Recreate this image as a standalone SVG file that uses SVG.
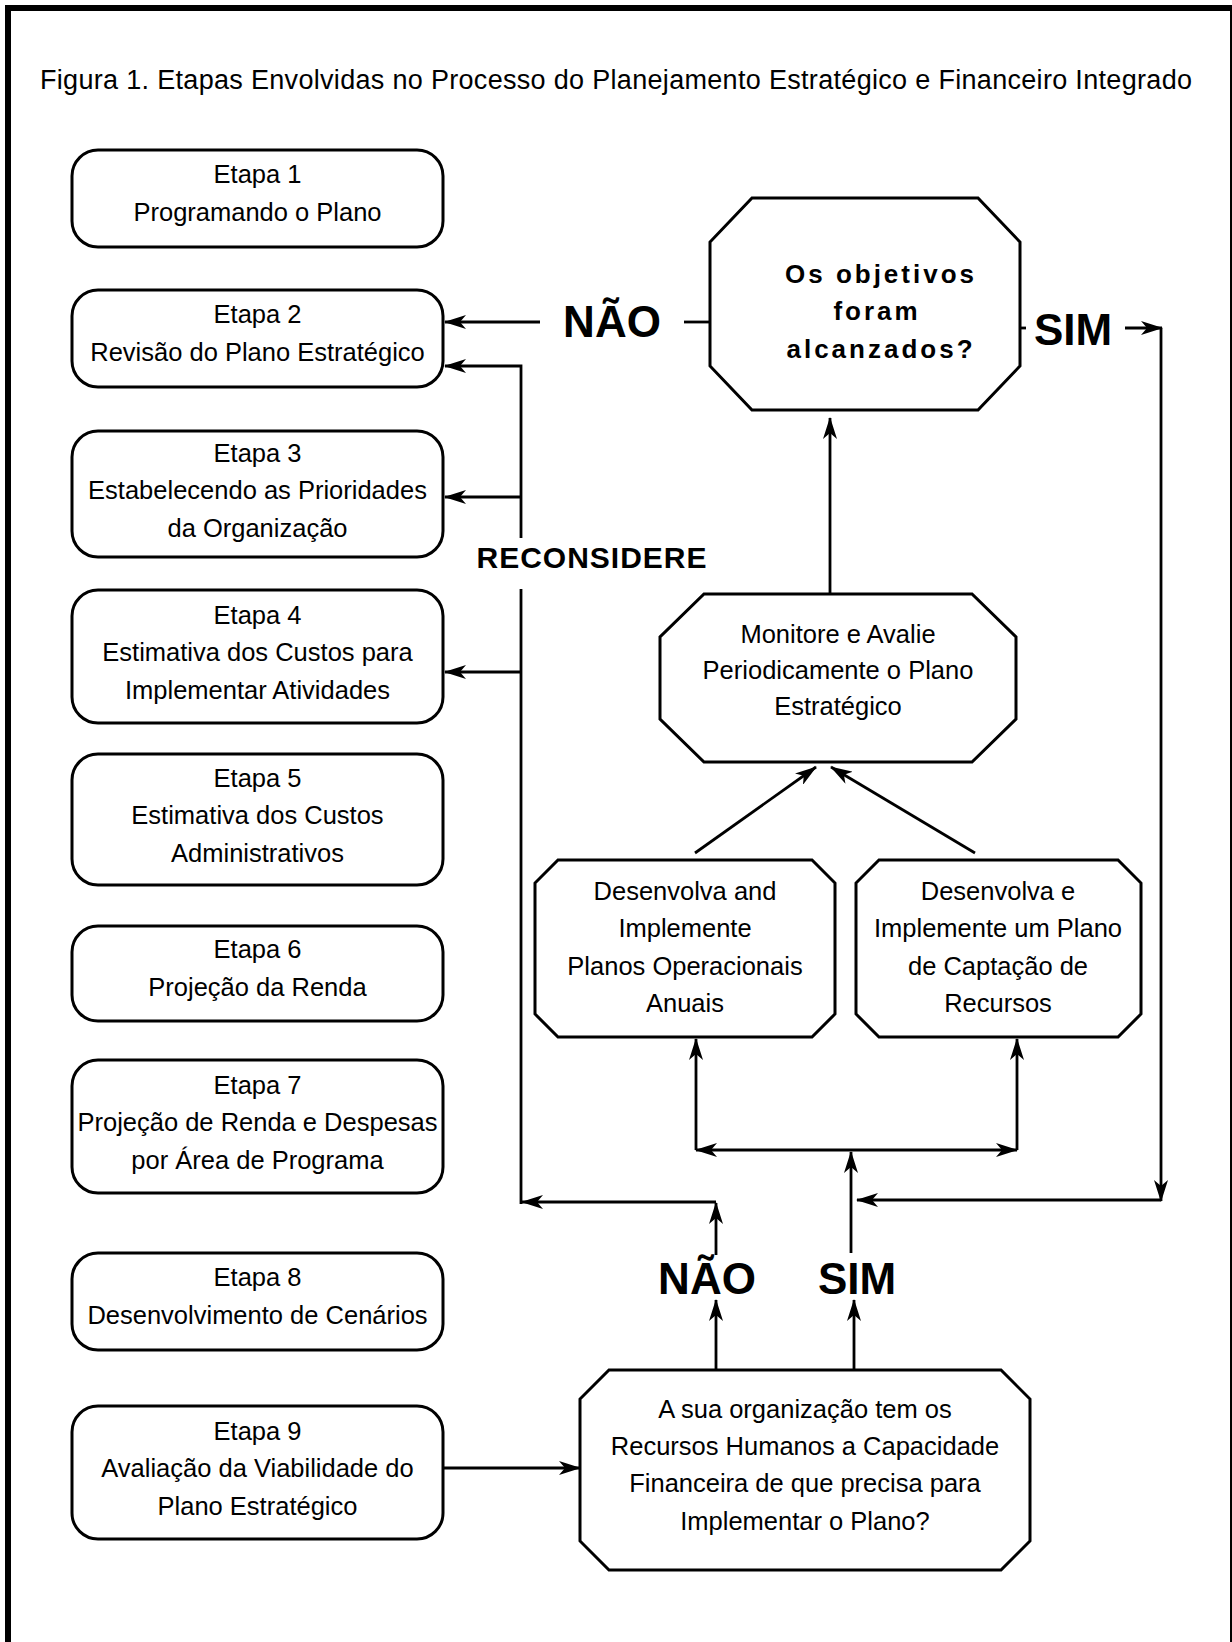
<svg xmlns="http://www.w3.org/2000/svg" width="1232" height="1642" viewBox="0 0 1232 1642">
<style>
.frame{fill:none;stroke:#000;stroke-width:6}
.box{fill:#fff;stroke:#000;stroke-width:3}
.ln{fill:none;stroke:#000;stroke-width:2.8}
.t{font-family:"Liberation Sans",Arial,sans-serif;font-size:25.5px;text-anchor:middle;fill:#000}
.title{font-family:"Liberation Sans",Arial,sans-serif;font-size:27px;fill:#000}
.q{font-family:"Liberation Sans",Arial,sans-serif;font-size:26px;font-weight:bold;letter-spacing:3px;text-anchor:middle;fill:#000}
.big{font-family:"Liberation Sans",Arial,sans-serif;font-size:44px;font-weight:bold;text-anchor:middle;fill:#000}
.rec{font-family:"Liberation Sans",Arial,sans-serif;font-size:30px;font-weight:bold;letter-spacing:1px;text-anchor:middle;fill:#000}
</style>
<defs>
<marker id="ah" viewBox="0 0 22 14" refX="21" refY="7" markerWidth="22" markerHeight="14" orient="auto-start-reverse" markerUnits="userSpaceOnUse">
<path d="M0,0 L22,7 L0,14 L6,7 z" fill="#000"/>
</marker>
</defs>
<rect x="0" y="0" width="1232" height="1642" fill="#fff"/>
<rect class="frame" x="8" y="8" width="1225" height="1660"/>
<text class="title" x="40" y="89" textLength="1152">Figura 1. Etapas Envolvidas no Processo do Planejamento Estratégico e Financeiro Integrado</text>

<g id="etapa1"><rect class="box" x="72" y="150" width="371" height="97" rx="26"/>
<text class="t" x="257.5" y="183">Etapa 1</text><text class="t" x="257.5" y="221">Programando o Plano</text></g>
<g id="etapa2"><rect class="box" x="72" y="290" width="371" height="97" rx="26"/>
<text class="t" x="257.5" y="323">Etapa 2</text><text class="t" x="257.5" y="361">Revisão do Plano Estratégico</text></g>
<g id="etapa3"><rect class="box" x="72" y="431" width="371" height="126" rx="26"/>
<text class="t" x="257.5" y="462">Etapa 3</text><text class="t" x="257.5" y="499">Estabelecendo as Prioridades</text><text class="t" x="257.5" y="537">da Organização</text></g>
<g id="etapa4"><rect class="box" x="72" y="590" width="371" height="133" rx="26"/>
<text class="t" x="257.5" y="624">Etapa 4</text><text class="t" x="257.5" y="661">Estimativa dos Custos para</text><text class="t" x="257.5" y="699">Implementar Atividades</text></g>
<g id="etapa5"><rect class="box" x="72" y="754" width="371" height="131" rx="26"/>
<text class="t" x="257.5" y="787">Etapa 5</text><text class="t" x="257.5" y="824">Estimativa dos Custos</text><text class="t" x="257.5" y="862">Administrativos</text></g>
<g id="etapa6"><rect class="box" x="72" y="926" width="371" height="95" rx="26"/>
<text class="t" x="257.5" y="958">Etapa 6</text><text class="t" x="257.5" y="996">Projeção da Renda</text></g>
<g id="etapa7"><rect class="box" x="72" y="1060" width="371" height="133" rx="26"/>
<text class="t" x="257.5" y="1094">Etapa 7</text><text class="t" x="257.5" y="1131">Projeção de Renda e Despesas</text><text class="t" x="257.5" y="1169">por Área de Programa</text></g>
<g id="etapa8"><rect class="box" x="72" y="1253" width="371" height="97" rx="26"/>
<text class="t" x="257.5" y="1286">Etapa 8</text><text class="t" x="257.5" y="1324">Desenvolvimento de Cenários</text></g>
<g id="etapa9"><rect class="box" x="72" y="1406" width="371" height="133" rx="26"/>
<text class="t" x="257.5" y="1440">Etapa 9</text><text class="t" x="257.5" y="1477">Avaliação da Viabilidade do</text><text class="t" x="257.5" y="1515">Plano Estratégico</text></g>

<g id="objetivos"><polygon class="box" points="752,198 978,198 1020,242 1020,366 978,410 752,410 710,366 710,242"/>
<text class="q" x="881" y="283">Os objetivos</text><text class="q" x="877" y="320">foram</text><text class="q" x="881" y="358">alcanzados?</text></g>
<g id="monitore"><polygon class="box" points="704,594 972,594 1016,637 1016,719 972,762 704,762 660,719 660,637"/>
<text class="t" x="838" y="643">Monitore e Avalie</text><text class="t" x="838" y="679">Periodicamente o Plano</text><text class="t" x="838" y="715">Estratégico</text></g>
<g id="operacionais"><polygon class="box" points="558,860 812,860 835,883 835,1014 812,1037 558,1037 535,1014 535,883"/>
<text class="t" x="685" y="900">Desenvolva and</text><text class="t" x="685" y="937">Implemente</text><text class="t" x="685" y="975">Planos Operacionais</text><text class="t" x="685" y="1012">Anuais</text></g>
<g id="captacao"><polygon class="box" points="879,860 1118,860 1141,883 1141,1014 1118,1037 879,1037 856,1014 856,883"/>
<text class="t" x="998" y="900">Desenvolva e</text><text class="t" x="998" y="937">Implemente um Plano</text><text class="t" x="998" y="975">de Captação de</text><text class="t" x="998" y="1012">Recursos</text></g>
<g id="recursos"><polygon class="box" points="609,1370 1001,1370 1030,1399 1030,1541 1001,1570 609,1570 580,1541 580,1399"/>
<text class="t" x="805" y="1418">A sua organização tem os</text><text class="t" x="805" y="1455">Recursos Humanos a Capacidade</text><text class="t" x="805" y="1492">Financeira de que precisa para</text><text class="t" x="805" y="1530">Implementar o Plano?</text></g>

<g id="labels">
<text class="big" x="612" y="337">NÃO</text>
<text class="big" x="1073" y="345">SIM</text>
<text class="rec" x="592" y="568">RECONSIDERE</text>
<text class="big" x="707" y="1294">NÃO</text>
<text class="big" x="857" y="1294">SIM</text>
</g>

<g id="connectors">
<line class="ln" x1="540" y1="322" x2="445" y2="322" marker-end="url(#ah)"/>
<line class="ln" x1="684" y1="322" x2="710" y2="322"/>
<line class="ln" x1="1020" y1="328" x2="1026" y2="328"/>
<path class="ln" d="M521,538 V366 H445" marker-end="url(#ah)"/>
<line class="ln" x1="521" y1="497" x2="445" y2="497" marker-end="url(#ah)"/>
<line class="ln" x1="521" y1="589" x2="521" y2="1204"/>
<line class="ln" x1="521" y1="672" x2="445" y2="672" marker-end="url(#ah)"/>
<line class="ln" x1="830" y1="594" x2="830" y2="418" marker-end="url(#ah)"/>
<line class="ln" x1="695" y1="853" x2="816" y2="767" marker-end="url(#ah)"/>
<line class="ln" x1="975" y1="853" x2="831" y2="767" marker-end="url(#ah)"/>
<line class="ln" x1="696" y1="1150" x2="696" y2="1039" marker-end="url(#ah)"/>
<line class="ln" x1="1017" y1="1150" x2="1017" y2="1039" marker-end="url(#ah)"/>
<line class="ln" x1="696" y1="1150" x2="1017" y2="1150" marker-start="url(#ah)" marker-end="url(#ah)"/>
<line class="ln" x1="851" y1="1253" x2="851" y2="1152" marker-end="url(#ah)"/>
<line class="ln" x1="854" y1="1370" x2="854" y2="1300" marker-end="url(#ah)"/>
<line class="ln" x1="716" y1="1370" x2="716" y2="1300" marker-end="url(#ah)"/>
<line class="ln" x1="716" y1="1255" x2="716" y2="1203" marker-end="url(#ah)"/>
<line class="ln" x1="716" y1="1202" x2="522" y2="1202" marker-end="url(#ah)"/>
<line class="ln" x1="1125" y1="328" x2="1162" y2="328" marker-end="url(#ah)"/>
<line class="ln" x1="1161" y1="328" x2="1161" y2="1201" marker-end="url(#ah)"/>
<line class="ln" x1="1161" y1="1200" x2="857" y2="1200" marker-end="url(#ah)"/>
<line class="ln" x1="443" y1="1468" x2="580" y2="1468" marker-end="url(#ah)"/>
</g>
</svg>
